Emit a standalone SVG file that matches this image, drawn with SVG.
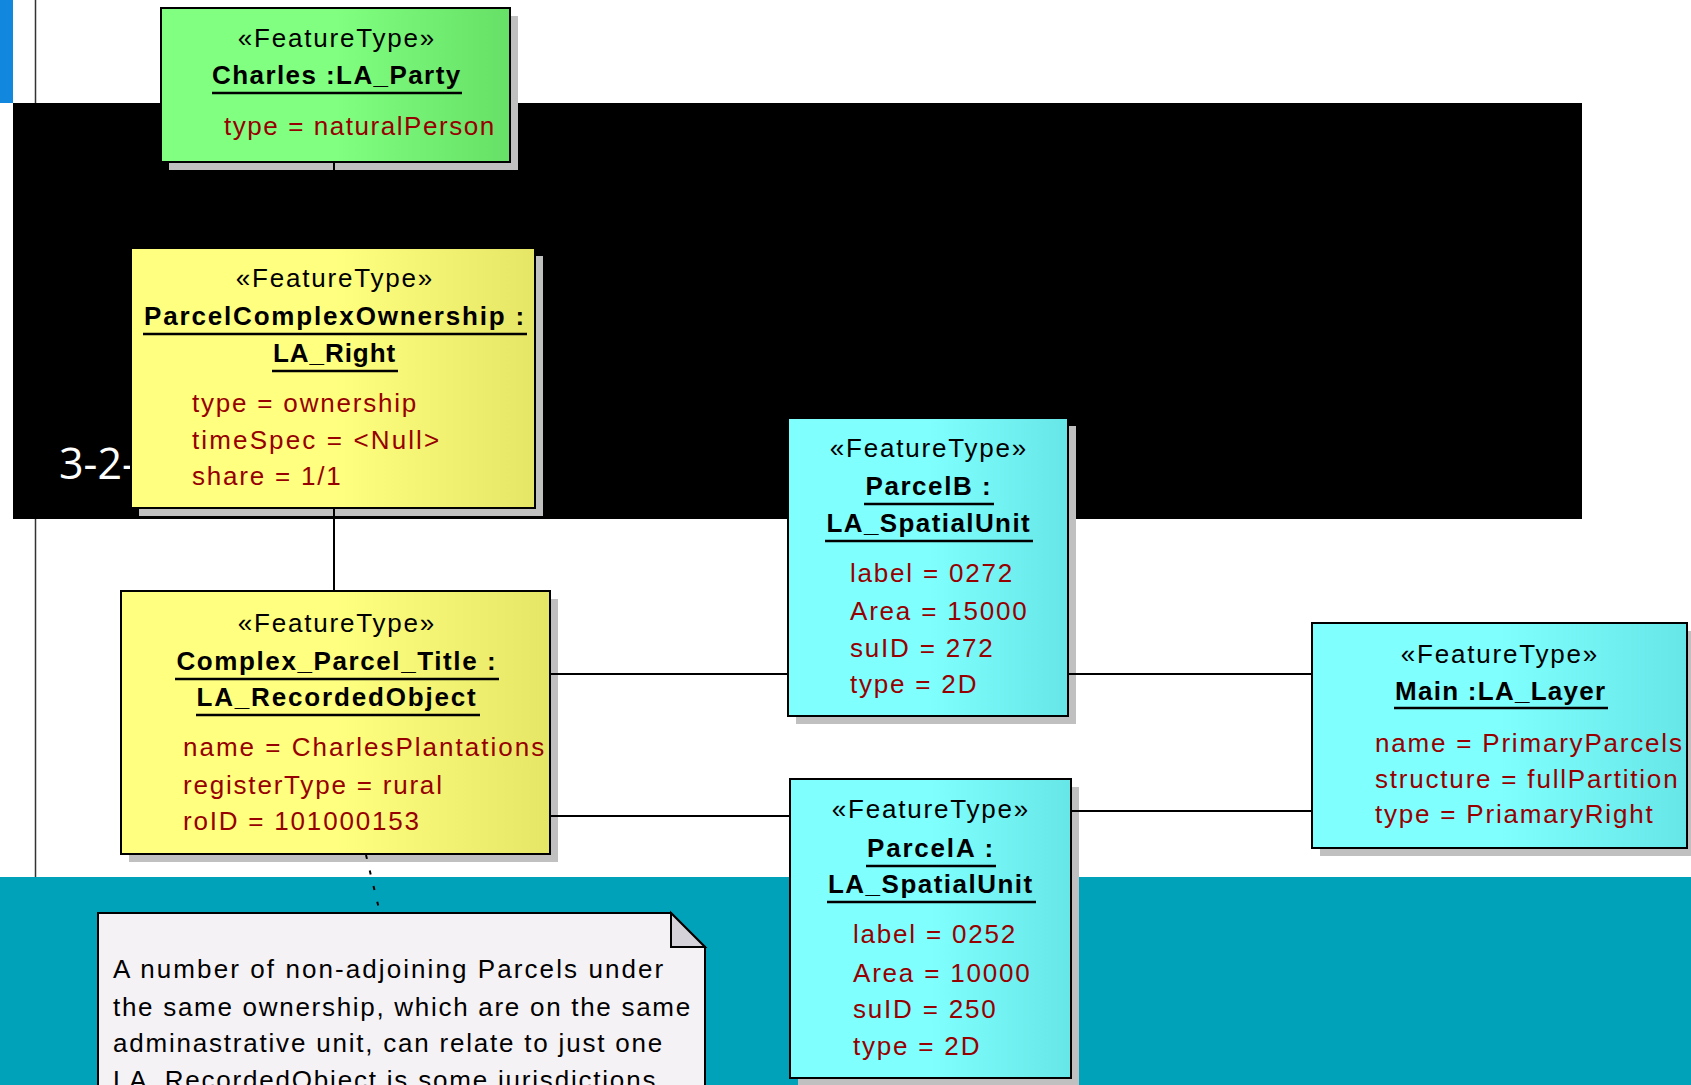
<svg xmlns="http://www.w3.org/2000/svg" width="1691" height="1085" viewBox="0 0 1691 1085">
<defs>
<linearGradient id="gGreen" x1="0" y1="0" x2="1" y2="0"><stop offset="0" stop-color="#80ff80"/><stop offset="0.5" stop-color="#80ff80"/><stop offset="1" stop-color="#66e066"/></linearGradient>
<linearGradient id="gYellow" x1="0" y1="0" x2="1" y2="0"><stop offset="0" stop-color="#ffff80"/><stop offset="0.5" stop-color="#ffff80"/><stop offset="1" stop-color="#e6e666"/></linearGradient>
<linearGradient id="gCyan" x1="0" y1="0" x2="1" y2="0"><stop offset="0" stop-color="#80ffff"/><stop offset="0.5" stop-color="#80ffff"/><stop offset="1" stop-color="#66e6e6"/></linearGradient>
<style>
.t{font-family:"Liberation Sans",Arial,sans-serif;font-size:26px;letter-spacing:1.8px;fill:#000}
.c{text-anchor:middle}
.b{font-weight:bold}
.a{fill:#960000}
.sh{fill:#c0c0c0}
.box{stroke:#000;stroke-width:2}
.ul{stroke:#000;stroke-width:2.5}
.con{stroke:#000;stroke-width:2;fill:none}
</style>
</defs>
<rect x="0" y="0" width="1691" height="1085" fill="#fff"/>
<rect x="0" y="0" width="13" height="103" fill="#1188dd"/>
<line x1="35.5" y1="0" x2="35.5" y2="1085" stroke="#333" stroke-width="1.5"/>
<rect x="13" y="103" width="1569" height="416" fill="#000"/>
<rect x="0" y="877" width="1691" height="208" fill="#00a2ba"/>
<text x="59" y="479" font-family="'Open Sans','Noto Sans',sans-serif" font-size="43" fill="#fff">3-2-</text>

<g id="charles">
<rect class="sh" x="169" y="16" width="349" height="154"/>
<rect class="box" x="161" y="8" width="349" height="154" fill="url(#gGreen)"/>
<text class="t c" x="337" y="47">«FeatureType»</text>
<text class="t c b" x="337" y="84" textLength="250" lengthAdjust="spacing">Charles :LA_Party</text>
<line class="ul" x1="212" y1="93" x2="462" y2="93"/>
<text class="t a" x="224" y="135" textLength="272" lengthAdjust="spacing">type = naturalPerson</text>
</g>

<g id="parcelComplexOwnership">
<rect class="sh" x="139" y="256" width="404" height="260"/>
<rect class="box" x="131" y="248" width="404" height="260" fill="url(#gYellow)"/>
<text class="t c" x="335" y="287">«FeatureType»</text>
<text class="t c b" x="335" y="325" textLength="382" lengthAdjust="spacing">ParcelComplexOwnership :</text>
<line class="ul" x1="143" y1="334" x2="527" y2="334"/>
<text class="t c b" x="335" y="362" textLength="124" lengthAdjust="spacing">LA_Right</text>
<line class="ul" x1="272" y1="371" x2="398" y2="371"/>
<text class="t a" x="192" y="412">type = ownership</text>
<text class="t a" x="192" y="449" textLength="249" lengthAdjust="spacing">timeSpec = &lt;Null&gt;</text>
<text class="t a" x="192" y="485">share = 1/1</text>
</g>

<g id="complexParcelTitle">
<rect class="sh" x="129" y="599" width="429" height="263"/>
<rect class="box" x="121" y="591" width="429" height="263" fill="url(#gYellow)"/>
<text class="t c" x="337" y="632">«FeatureType»</text>
<text class="t c b" x="337" y="670" textLength="321" lengthAdjust="spacing">Complex_Parcel_Title :</text>
<line class="ul" x1="175" y1="679" x2="499" y2="679"/>
<text class="t c b" x="337" y="706" textLength="281" lengthAdjust="spacing">LA_RecordedObject</text>
<line class="ul" x1="196" y1="715" x2="480" y2="715"/>
<text class="t a" x="183" y="756" textLength="363" lengthAdjust="spacing">name = CharlesPlantations</text>
<text class="t a" x="183" y="794">registerType = rural</text>
<text class="t a" x="183" y="830">roID = 101000153</text>
</g>

<g id="parcelB">
<rect class="sh" x="796" y="426" width="280" height="298"/>
<rect class="box" x="788" y="418" width="280" height="298" fill="url(#gCyan)"/>
<text class="t c" x="929" y="457">«FeatureType»</text>
<text class="t c b" x="929" y="495" textLength="127" lengthAdjust="spacing">ParcelB :</text>
<line class="ul" x1="864" y1="504" x2="994" y2="504"/>
<text class="t c b" x="929" y="532" textLength="205" lengthAdjust="spacing">LA_SpatialUnit</text>
<line class="ul" x1="825" y1="541" x2="1033" y2="541"/>
<text class="t a" x="850" y="582">label = 0272</text>
<text class="t a" x="850" y="620">Area = 15000</text>
<text class="t a" x="850" y="657">suID = 272</text>
<text class="t a" x="850" y="693">type = 2D</text>
</g>

<g id="parcelA">
<rect class="sh" x="798" y="787" width="281" height="299"/>
<rect class="box" x="790" y="779" width="281" height="299" fill="url(#gCyan)"/>
<text class="t c" x="931" y="818">«FeatureType»</text>
<text class="t c b" x="931" y="857" textLength="128" lengthAdjust="spacing">ParcelA :</text>
<line class="ul" x1="866" y1="866" x2="996" y2="866"/>
<text class="t c b" x="931" y="893" textLength="206" lengthAdjust="spacing">LA_SpatialUnit</text>
<line class="ul" x1="827" y1="902" x2="1036" y2="902"/>
<text class="t a" x="853" y="943">label = 0252</text>
<text class="t a" x="853" y="982">Area = 10000</text>
<text class="t a" x="853" y="1018">suID = 250</text>
<text class="t a" x="853" y="1055">type = 2D</text>
</g>

<g id="mainLayer">
<rect class="sh" x="1320" y="631" width="375" height="225"/>
<rect class="box" x="1312" y="623" width="375" height="225" fill="url(#gCyan)"/>
<text class="t c" x="1500" y="663">«FeatureType»</text>
<text class="t c b" x="1501" y="700" textLength="212" lengthAdjust="spacing">Main :LA_Layer</text>
<line class="ul" x1="1394" y1="708" x2="1608" y2="708"/>
<text class="t a" x="1375" y="752">name = PrimaryParcels</text>
<text class="t a" x="1375" y="788">structure = fullPartition</text>
<text class="t a" x="1375" y="823">type = PriamaryRight</text>
</g>

<g id="note">
<path d="M98,913 H671 L705,947 V1095 H98 Z" fill="#f5f2f5" stroke="#000" stroke-width="2"/>
<path d="M671,913 V947 H705 Z" fill="#d6d2da" stroke="#000" stroke-width="2" stroke-linejoin="miter"/>
<text class="t" x="113" y="978" textLength="552" lengthAdjust="spacing">A number of non-adjoining Parcels under</text>
<text class="t" x="113" y="1016" textLength="579" lengthAdjust="spacing">the same ownership, which are on the same</text>
<text class="t" x="113" y="1052" textLength="551" lengthAdjust="spacing">adminastrative unit, can relate to just one</text>
<text class="t" x="113" y="1089">LA_RecordedObject is some jurisdictions</text>
</g>

<g id="connectors">
<line class="con" x1="334" y1="162" x2="334" y2="248"/>
<line class="con" x1="334" y1="508" x2="334" y2="591"/>
<line class="con" x1="550" y1="674" x2="788" y2="674"/>
<line class="con" x1="550" y1="816" x2="790" y2="816"/>
<line class="con" x1="1068" y1="674" x2="1312" y2="674"/>
<line class="con" x1="1071" y1="811" x2="1312" y2="811"/>
<line class="con" x1="366" y1="855" x2="380" y2="913" stroke-dasharray="4,12"/>
</g>
</svg>
